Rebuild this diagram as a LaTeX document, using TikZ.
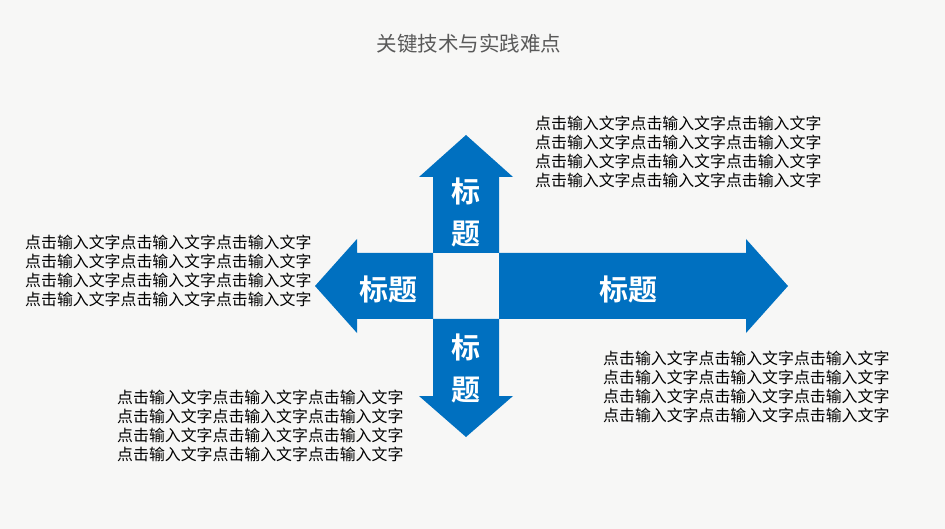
\documentclass[tikz,border=0pt]{standalone}
\usepackage{fontspec}
\setmainfont{Noto Sans CJK SC}
\newfontfamily\cjkbold{Noto Sans CJK SC Bold}
\usetikzlibrary{positioning}
\definecolor{arrowblue}{RGB}{0, 112, 192}
\definecolor{bgpaper}{RGB}{247, 247, 246}
\definecolor{titlegray}{RGB}{89, 89, 89}
\tikzset{
  arrowshape/.style={fill=arrowblue, draw=none},
  label/.style={text=white, font=\cjkbold\fontsize{29}{33}\selectfont, inner sep=0pt},
  vlabel/.style={label, align=center, font=\cjkbold\fontsize{29}{42}\selectfont},
  bodytext/.style={font=\fontsize{15.9}{19}\selectfont, align=left, inner sep=0pt, anchor=north west}
}
\begin{document}
\begin{tikzpicture}[x=1pt, y=-1pt]
\fill[bgpaper] (0,0) rectangle (945,529);
\useasboundingbox (0,0) rectangle (945,529);

% title
\node[text=titlegray, font=\fontsize{20.5}{24}\selectfont] (title) at (469,44) {关键技术与实践难点};

% arrows
\fill[arrowshape] (433,253) -- (433,177) -- (419,177) -- (466,135) -- (513,177) -- (499,177) -- (499,253) -- cycle;
\fill[arrowshape] (433,319) -- (433,396) -- (419,396) -- (466,437) -- (513,396) -- (499,396) -- (499,319) -- cycle;
\fill[arrowshape] (433,253) -- (357,253) -- (357,239) -- (315,286) -- (357,333) -- (357,319) -- (433,319) -- cycle;
\fill[arrowshape] (499,253) -- (746,253) -- (746,239) -- (788,286) -- (746,333) -- (746,319) -- (499,319) -- cycle;

% arrow labels
\node[vlabel] (up_lbl) at (466,212) {标\\题};
\node[vlabel] (down_lbl) at (466,368) {标\\题};
\node[label] (left_lbl) at (388,289) {标题};
\node[label] (right_lbl) at (628,289) {标题};

% text blocks
\node[bodytext] (tr_text) at (535,116) {点击输入文字点击输入文字点击输入文字\\点击输入文字点击输入文字点击输入文字\\点击输入文字点击输入文字点击输入文字\\点击输入文字点击输入文字点击输入文字};
\node[bodytext] (l_text) at (25,235) {点击输入文字点击输入文字点击输入文字\\点击输入文字点击输入文字点击输入文字\\点击输入文字点击输入文字点击输入文字\\点击输入文字点击输入文字点击输入文字};
\node[bodytext] (br_text) at (603,351) {点击输入文字点击输入文字点击输入文字\\点击输入文字点击输入文字点击输入文字\\点击输入文字点击输入文字点击输入文字\\点击输入文字点击输入文字点击输入文字};
\node[bodytext] (bl_text) at (117,390) {点击输入文字点击输入文字点击输入文字\\点击输入文字点击输入文字点击输入文字\\点击输入文字点击输入文字点击输入文字\\点击输入文字点击输入文字点击输入文字};

\end{tikzpicture}
\end{document}
